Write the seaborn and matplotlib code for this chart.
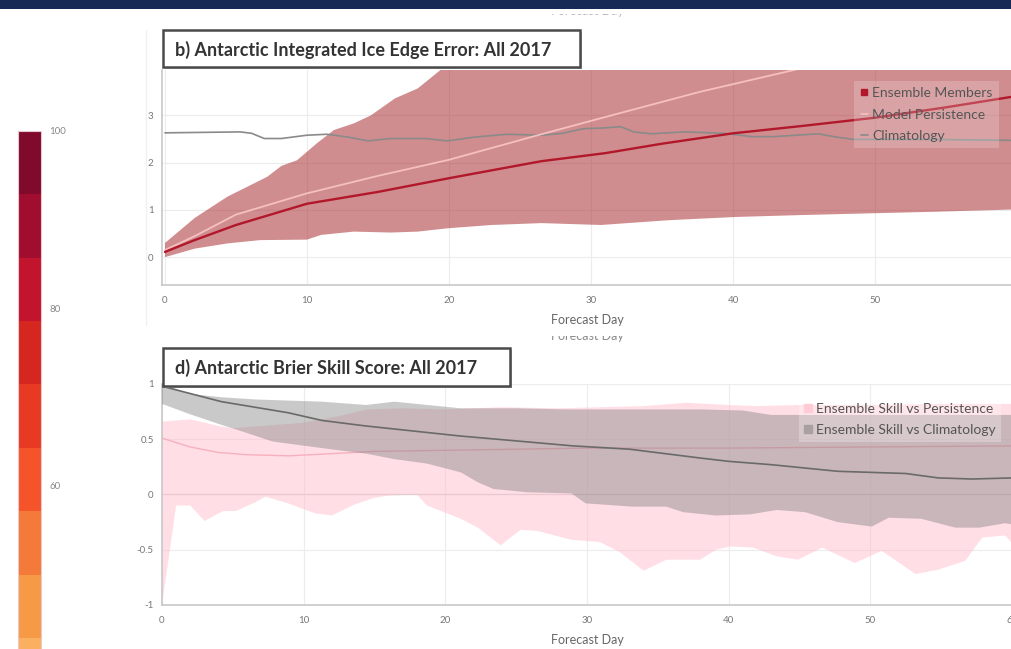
import numpy as np
import matplotlib
matplotlib.use("Agg")
import matplotlib.pyplot as plt
from matplotlib.patches import Rectangle
from matplotlib.lines import Line2D
from matplotlib.colors import ListedColormap, BoundaryNorm
from matplotlib.transforms import Bbox, TransformedBbox
import matplotlib.cm as cm
import seaborn as sns

# ---------------- Panel b: Antarctic integrated ice edge error ----------------
ens_mean_days = [0, 2, 5, 10, 15, 20, 26.5, 31, 35, 40, 45, 50, 55, 60]
ens_mean_vals = [0.11, 0.35, 0.68, 1.13, 1.38, 1.67, 2.03, 2.2, 2.4, 2.62, 2.78, 2.95, 3.17, 3.41]

ens_upper_days = [0, 2.1, 4.4, 7.2, 8.2, 9.3, 10.7, 11.9, 13.3, 14.5, 16.2, 17.8, 19.4, 21, 30, 60]
ens_upper_vals = [0.3, 0.83, 1.28, 1.7, 1.93, 2.05, 2.41, 2.69, 2.83, 3.0, 3.36, 3.57, 3.96, 4.3, 5.5, 8.0]

ens_lower_days = [0, 2.1, 4.4, 6.7, 10, 11, 13.3, 15.9, 17.8, 19.9, 23, 26.5, 30.7, 35.4, 40.2, 44.8, 50.1, 54.2, 60]
ens_lower_vals = [0.0, 0.18, 0.29, 0.36, 0.37, 0.47, 0.54, 0.52, 0.54, 0.61, 0.68, 0.72, 0.68, 0.78, 0.85, 0.89, 0.93, 0.96, 1.01]

pers_days = [0, 2, 5, 10, 15, 20, 26.5, 30.7, 37.7, 44.3, 50, 60]
pers_vals = [0.15, 0.43, 0.9, 1.35, 1.72, 2.06, 2.6, 2.94, 3.5, 3.96, 4.4, 5.1]

clim_days = [0, 5.3, 6.1, 7.0, 8.2, 10, 11.4, 12.9, 14.3, 15.9, 18.3, 19.9, 21.8, 24.1, 26.5,
             28, 29.5, 30.7, 32.1, 33.0, 34.2, 36.6, 39.4, 41.3, 42.9, 46, 47.1, 48.5, 51.8, 54.2, 60]
clim_vals = [2.63, 2.65, 2.62, 2.51, 2.51, 2.58, 2.6, 2.54, 2.46, 2.51, 2.51, 2.46, 2.54, 2.6, 2.58,
             2.62, 2.72, 2.73, 2.76, 2.65, 2.61, 2.65, 2.62, 2.55, 2.55, 2.61, 2.55, 2.49, 2.49, 2.49, 2.47]

# ---------------- Panel d: Antarctic Brier skill score ----------------
bss_pers_mean_days = [0, 2, 4, 6, 9, 12, 15, 20, 30, 40, 50, 60]
bss_pers_mean_vals = [0.51, 0.43, 0.38, 0.36, 0.35, 0.37, 0.39, 0.4, 0.42, 0.42, 0.43, 0.44]

bss_pers_upper_days = [0, 2, 4, 5, 7, 10, 12.5, 14.5, 17, 20, 24, 28, 31, 34, 37, 40, 42, 45, 50, 55, 60]
bss_pers_upper_vals = [0.66, 0.68, 0.62, 0.6, 0.62, 0.65, 0.71, 0.77, 0.78, 0.77, 0.79, 0.78, 0.79, 0.8,
                       0.83, 0.81, 0.8, 0.81, 0.81, 0.82, 0.82]

bss_pers_lower_days = [0, 1.0, 2, 3, 4.3, 5.2, 6.6, 7.3, 8.9, 10.8, 12, 13.6, 15, 16, 18, 18.7, 19.9,
                       21.1, 22.3, 23.9, 25.3, 26.5, 28.9, 30.9, 32.3, 34, 35.6, 38, 39.1, 40.1, 41.7,
                       43.4, 44.9, 46.6, 48.9, 50.8, 53.2, 54.8, 56.7, 57.9, 59.5, 60]
bss_pers_lower_vals = [-1.0, -0.1, -0.1, -0.24, -0.15, -0.15, -0.07, -0.02, -0.08, -0.17, -0.19, -0.09,
                       -0.03, -0.01, 0.0, -0.1, -0.16, -0.22, -0.3, -0.46, -0.32, -0.33, -0.41, -0.43,
                       -0.52, -0.69, -0.59, -0.59, -0.5, -0.47, -0.48, -0.56, -0.59, -0.48, -0.62,
                       -0.51, -0.72, -0.68, -0.6, -0.39, -0.37, -0.44]

bss_clim_mean_days = [0, 4.2, 8.9, 11.3, 14.4, 21, 29, 33, 38, 40, 43, 47.7, 52.5, 54.8, 57.2, 60]
bss_clim_mean_vals = [0.98, 0.84, 0.74, 0.67, 0.62, 0.53, 0.44, 0.41, 0.33, 0.3, 0.27, 0.21, 0.19, 0.15, 0.14, 0.15]

bss_clim_upper_days = [0, 2, 4.2, 6.6, 8.9, 11.3, 14.4, 16.4, 21.1, 25, 28.5, 33, 38, 41, 43, 50, 60]
bss_clim_upper_vals = [1.0, 0.91, 0.88, 0.86, 0.85, 0.84, 0.81, 0.84, 0.78, 0.78, 0.77, 0.77, 0.77, 0.76,
                       0.72, 0.72, 0.72]

bss_clim_lower_days = [0, 1.9, 4.2, 5.2, 7.8, 10.1, 12.5, 14.4, 16.4, 18.7, 21.1, 22.3, 23.4, 25.8, 28.9,
                       29.9, 33.2, 35.6, 36.8, 39.1, 41.5, 43.4, 45.4, 47.7, 50.1, 51.3, 53.6, 56, 57.7,
                       59.5, 60]
bss_clim_lower_vals = [0.82, 0.73, 0.63, 0.59, 0.48, 0.44, 0.4, 0.37, 0.32, 0.28, 0.2, 0.11, 0.05, 0.02,
                       0.01, -0.08, -0.11, -0.11, -0.16, -0.19, -0.18, -0.14, -0.16, -0.25, -0.29, -0.21,
                       -0.22, -0.3, -0.3, -0.26, -0.27]

# ---------------- Colour scale (probability, %) ----------------
scale_colors = ["#fffed4", "#fff6bc", "#ffe9a2", "#fed98a", "#fcc574", "#fab05f", "#f79a45",
                "#f47a3a", "#f5532a", "#e83a22", "#d62620", "#c2142d", "#a10d2e", "#7f0a2b"]
scale_ticks = [60, 80, 100]

panel_b_title = "b) Antarctic Integrated Ice Edge Error: All 2017"
panel_d_title = "d) Antarctic Brier Skill Score: All 2017"
x_label = "Forecast Day"

# ---------------- Figure ----------------
sns.set_theme(style="whitegrid")
plt.rcParams['font.family'] = ['Lato', 'DejaVu Sans']

W, H = 1012, 649
fig = plt.figure(figsize=(W / 100, H / 100), dpi=100)
fig.patch.set_facecolor("white")


def px_box(l, t, r, b):
    return [l / W, 1 - b / H, (r - l) / W, (b - t) / H]


def fx(x):
    return x / W


def fy(y):
    return 1 - y / H


def style_axes(ax, xticks, yticks, yticklabels):
    ax.set_facecolor("white")
    ax.grid(True, color="#ececec", linewidth=0.8)
    for s in ["top", "right"]:
        ax.spines[s].set_visible(False)
    for s in ["left", "bottom"]:
        ax.spines[s].set_color("#c8c8c8")
        ax.spines[s].set_linewidth(1.2)
    ax.set_xticks(xticks)
    ax.set_xticklabels([str(t) for t in xticks])
    ax.set_yticks(yticks)
    ax.set_yticklabels(yticklabels)
    ax.tick_params(length=0, labelsize=7, labelcolor="#777777")
    ax.tick_params(axis="x", pad=8)
    ax.tick_params(axis="y", pad=6)
    ax.set_xlabel("")
    ax.set_ylabel("")


# ---- panel b ----
ax1 = fig.add_axes(px_box(162, 70, 1012, 285))
ax1.fill(np.r_[ens_upper_days, ens_lower_days[::-1]],
         np.r_[ens_upper_vals, ens_lower_vals[::-1]],
         color=(0.64, 0.11, 0.13), alpha=0.5, lw=0, zorder=2)
sns.lineplot(x=clim_days, y=clim_vals, ax=ax1, color="#8a8a8a", lw=1.2, zorder=3)
sns.lineplot(x=pers_days, y=pers_vals, ax=ax1, color="#f6c0c0", lw=1.3, zorder=3)
sns.lineplot(x=ens_mean_days, y=ens_mean_vals, ax=ax1, color="#b2182b", lw=1.7, zorder=4)
ax1.set_xlim(-0.21, 59.65)
ax1.set_ylim(-0.59, 3.96)
style_axes(ax1, [0, 10, 20, 30, 40, 50], [0, 1, 2, 3], ["0", "1", "2", "3"])

h1 = [Line2D([], [], marker="s", color="#b2182b", linestyle="none", markersize=4),
      Line2D([], [], color="#f6c0c0", lw=1.2),
      Line2D([], [], color="#8a8a8a", lw=1.2)]
leg1 = ax1.legend(h1, ["Ensemble Members", "Model Persistence", "Climatology"],
                  loc="upper right", bbox_to_anchor=(fx(1006), fy(74)),
                  bbox_transform=fig.transFigure, frameon=True, framealpha=0.2,
                  facecolor="white", edgecolor="none", fontsize=10, handlelength=0.5,
                  handletextpad=0.35, labelspacing=0.68, borderpad=0.45, labelcolor="#555555",
                  fancybox=False)

# ---- panel d ----
ax2 = fig.add_axes(px_box(162, 384, 1012, 605))
ax2.fill(np.r_[bss_pers_upper_days, bss_pers_lower_days[::-1]],
         np.r_[bss_pers_upper_vals, bss_pers_lower_vals[::-1]],
         color=(1.0, 0.75, 0.8), alpha=0.5, lw=0, zorder=2)
sns.lineplot(x=bss_pers_mean_days, y=bss_pers_mean_vals, ax=ax2, color="#f7b0bd", lw=1.0, zorder=3)
ax2.fill(np.r_[bss_clim_upper_days, bss_clim_lower_days[::-1]],
         np.r_[bss_clim_upper_vals, bss_clim_lower_vals[::-1]],
         color=(0.5, 0.5, 0.5), alpha=0.42, lw=0, zorder=4)
sns.lineplot(x=bss_clim_mean_days, y=bss_clim_mean_vals, ax=ax2, color="#6a6a6a", lw=1.2, zorder=5)
ax2.axhline(0, color="#d4d4d4", lw=0.9, zorder=1)
ax2.set_xlim(0, 60)
ax2.set_ylim(-1, 1.0)
style_axes(ax2, [0, 10, 20, 30, 40, 50, 60], [-1, -0.5, 0, 0.5, 1],
           ["-1", "-0.5", "0", "0.5", "1"])

h2 = [Line2D([], [], marker="s", color=(1.0, 0.8, 0.84), linestyle="none", markersize=6),
      Line2D([], [], marker="s", color="#a9a0a2", linestyle="none", markersize=6)]
leg2 = ax2.legend(h2, ["Ensemble Skill vs Persistence", "Ensemble Skill vs Climatology"],
                  loc="upper right", bbox_to_anchor=(fx(1008), fy(390)),
                  bbox_transform=fig.transFigure, frameon=True, framealpha=0.25,
                  facecolor="white", edgecolor="none", fontsize=10, handlelength=0.5,
                  handletextpad=0.35, labelspacing=0.68, borderpad=0.4, labelcolor="#555555",
                  fancybox=False)
leg2.set_zorder(10)

# ---- colour bar on the left ----
cax = fig.add_axes(px_box(18, 131, 41, 1018))
cmap = ListedColormap(scale_colors)
norm = BoundaryNorm(np.linspace(0, 100, len(scale_colors) + 1), cmap.N)
cb = fig.colorbar(cm.ScalarMappable(norm=norm, cmap=cmap), cax=cax, ticks=scale_ticks)
cb.minorticks_off()
cb.ax.set_yticks(scale_ticks)
cb.ax.set_yticklabels([str(t) for t in scale_ticks])
cb.ax.tick_params(which="both", length=0, labelsize=7, labelcolor="#888888", pad=6)
cb.outline.set_edgecolor("#e6c8d0")
cb.outline.set_linewidth(0.8)

# ---- axis labels ----
fig.text(fx(587), fy(320), x_label, ha="center", va="center", fontsize=9, color="#666666")
fig.text(fx(587), fy(640), x_label, ha="center", va="center", fontsize=9, color="#666666")

# partially hidden labels of neighbouring panels
for yc, clip, col in [(336, (336, 346), "#8a8a8a"), (11, (14, 22), "#b8b8b8")]:
    t = fig.text(fx(587), fy(yc), x_label, ha="center", va="center", fontsize=9, color=col)
    bb = Bbox.from_extents(fx(530), fy(clip[1]), fx(650), fy(clip[0]))
    t.set_clip_box(TransformedBbox(bb, fig.transFigure))
    t.set_clip_on(True)

# faint panel separator
fig.add_artist(Line2D([fx(146), fx(146)], [fy(30), fy(325)], color="#f1f1f1", lw=1.0,
                      transform=fig.transFigure))

# ---- title boxes ----
for (l, t, r, b), txt in [((163, 30, 580, 67), panel_b_title), ((163, 348, 510, 386), panel_d_title)]:
    fig.add_artist(Rectangle((fx(l) + 0.002, fy(b) - 0.003), (r - l) / W, (b - t) / H,
                             transform=fig.transFigure, facecolor="#bbbbbb", edgecolor="none",
                             zorder=6))
    fig.add_artist(Rectangle((fx(l), fy(b)), (r - l) / W, (b - t) / H,
                             transform=fig.transFigure, facecolor="white", edgecolor="#4a4a4a",
                             lw=1.8, zorder=7))
    fig.text(fx(l + 12), fy((t + b) / 2 + 1), txt, ha="left", va="center", fontsize=13,
             fontweight="bold", color="#333333", zorder=8)

# ---- top banner ----
fig.add_artist(Rectangle((0, fy(8.7)), 1, 8.7 / H, transform=fig.transFigure,
                         facecolor="#172a55", edgecolor="none", zorder=20))

fig.savefig("out.png", dpi=100, facecolor="white")
